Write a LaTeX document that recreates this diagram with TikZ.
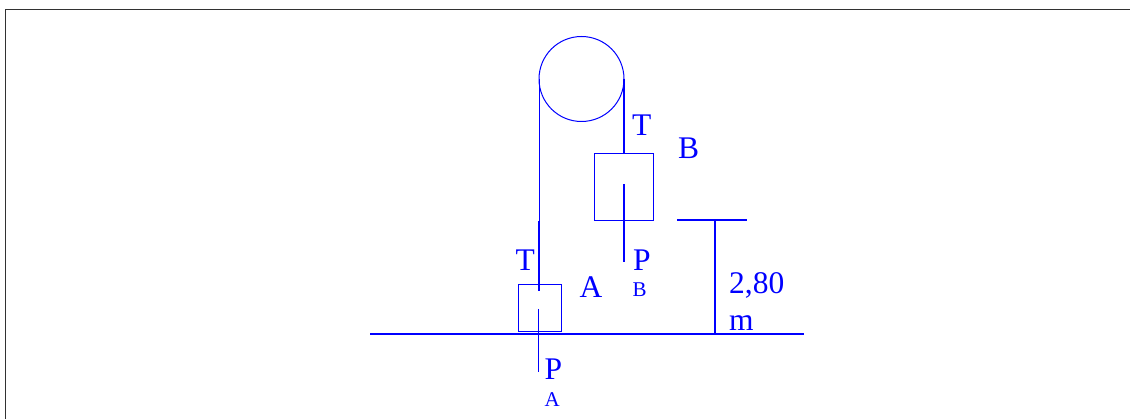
\documentclass[tikz,border=0pt]{standalone}
\usepackage{fontspec}
\setmainfont{Liberation Serif}
\usetikzlibrary{positioning}
\definecolor{ropeblue}{RGB}{0,0,255}
\definecolor{framegray}{RGB}{50,50,50}
\tikzset{
  bigtext/.style={text=ropeblue,anchor=base west,inner sep=0pt,font=\fontsize{31.5}{31.5}\selectfont},
  smalltext/.style={text=ropeblue,anchor=base west,inner sep=0pt,font=\fontsize{21}{21}\selectfont},
  mass/.style={draw=ropeblue,line width=1pt,inner sep=0pt,outer sep=0pt,anchor=north west},
  thinrope/.style={draw=ropeblue,line width=1pt},
  rope/.style={draw=ropeblue,line width=1.3pt},
  heavy/.style={draw=ropeblue,line width=2pt}
}

\begin{document}
\begin{tikzpicture}[x=1pt,y=-1pt]
    \useasboundingbox (0,0) rectangle (1130,419);
    % Frame
    \coordinate (frame_bl) at (5.5,419);
    \coordinate (frame_tl) at (5.5,9.5);
    \coordinate (frame_tr) at (1130,9.5);
    \draw[framegray,line width=1pt] (frame_bl) -- (frame_tl) -- (frame_tr);

    % Pulley
    \node[draw=ropeblue,line width=1pt,circle,minimum size=85pt,inner sep=0pt,outer sep=0pt] (pulley) at (581.5,79) {};

    % Blocks
    \node[mass,minimum width=59.5pt,minimum height=67pt] (block_b) at (594,153.5) {};
    \node[mass,minimum width=42.5pt,minimum height=47.5pt] (block_a) at (518.5,284.5) {};

    % Ropes
    \coordinate (rope_mid) at (539,221);
    \coordinate (rope_end) at (539,291);
    \coordinate (pb_top) at (624,184);
    \coordinate (pb_end) at (624,262);
    \coordinate (pa_top) at (538.5,309);
    \coordinate (pa_end) at (538.5,372);
    \draw[thinrope] (pulley.west) -- (rope_mid);
    \draw[rope] (rope_mid) -- (rope_end);
    \draw[heavy] (pulley.east) -- (pulley.east |- block_b.north);
    \draw[heavy] (pb_top) -- (pb_end);
    \draw[rope] (pa_top) -- (pa_end);

    % Floor and height mark
    \coordinate (floor_l) at (370,334);
    \coordinate (floor_r) at (803.5,334);
    \coordinate (plate_l) at (677,220);
    \coordinate (plate_r) at (746.5,220);
    \coordinate (plate_m) at (715,220);
    \draw[heavy] (floor_l) -- (floor_r);
    \draw[heavy] (plate_l) -- (plate_r);
    \draw[heavy] (plate_m) -- (plate_m |- floor_l);

    % Labels
    \node[bigtext] (t_b) at (632,135.5) {T};
    \node[bigtext] (name_b) at (678,158.5) {B};
    \node[bigtext] (t_a) at (515.5,270.5) {T};
    \node[bigtext] (name_a) at (579.5,298) {A};
    \node[bigtext] (p_b) at (633,270.5) {P};
    \node[smalltext] (sub_b) at (632.5,297) {B};
    \node[bigtext] (p_a) at (544.5,380) {P};
    \node[smalltext] (sub_a) at (544.5,407) {A};
    \node[bigtext] (height) at (729,293.5) {2,80};
    \node[bigtext] (unit) at (729,331) {m};
\end{tikzpicture}
\end{document}
